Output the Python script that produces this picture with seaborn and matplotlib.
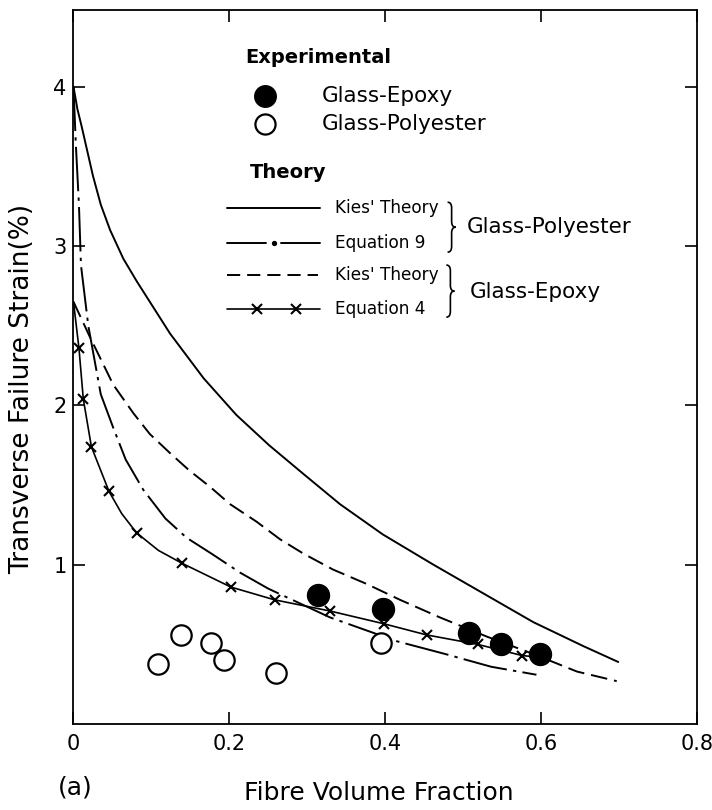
import matplotlib
matplotlib.use("Agg")
import matplotlib.pyplot as plt
import seaborn as sns
from matplotlib.path import Path
from matplotlib.patches import PathPatch

# ---------------- data ----------------
kies_gp_x = [0.0, 0.005, 0.0105, 0.025, 0.035, 0.047, 0.064, 0.081, 0.124, 0.167,
             0.209, 0.251, 0.295, 0.342, 0.397, 0.462, 0.526, 0.590, 0.654, 0.699]
kies_gp_y = [4.0, 3.86, 3.75, 3.44, 3.26, 3.10, 2.92, 2.78, 2.45, 2.17,
             1.94, 1.75, 1.57, 1.38, 1.19, 1.00, 0.82, 0.64, 0.49, 0.39]

eq9_x = [0.0, 0.003, 0.007, 0.0096, 0.019, 0.035, 0.051, 0.067, 0.0896, 0.118,
         0.145, 0.177, 0.214, 0.250, 0.329, 0.415, 0.477, 0.536, 0.594]
eq9_y = [4.0, 3.64, 3.26, 2.88, 2.50, 2.07, 1.86, 1.66, 1.47, 1.29,
         1.17, 1.07, 0.95, 0.85, 0.67, 0.52, 0.44, 0.36, 0.31]

kies_ge_x = [0.0, 0.021, 0.038, 0.051, 0.077, 0.098, 0.124, 0.149, 0.175, 0.201,
             0.235, 0.265, 0.295, 0.333, 0.376, 0.419, 0.470, 0.530, 0.590, 0.646, 0.697]
kies_ge_y = [2.65, 2.43, 2.26, 2.13, 1.95, 1.82, 1.70, 1.59, 1.49, 1.38,
             1.27, 1.16, 1.07, 0.97, 0.88, 0.78, 0.67, 0.55, 0.44, 0.33, 0.27]

eq4_x = [0.0, 0.007, 0.0126, 0.023, 0.0456, 0.062, 0.081, 0.109, 0.139, 0.202,
         0.258, 0.329, 0.398, 0.453, 0.519, 0.576, 0.598]
eq4_y = [2.65, 2.36, 2.04, 1.74, 1.46, 1.32, 1.20, 1.09, 1.01, 0.86,
         0.78, 0.71, 0.63, 0.56, 0.50, 0.43, 0.42]
eq4_marked = [1, 2, 3, 4, 6, 8, 9, 10, 11, 12, 13, 14, 15]

exp_ge_x = [0.314, 0.397, 0.507, 0.549, 0.599]
exp_ge_y = [0.81, 0.72, 0.57, 0.50, 0.44]

exp_gp_x = [0.108, 0.138, 0.176, 0.193, 0.260, 0.394]
exp_gp_y = [0.38, 0.56, 0.51, 0.40, 0.32, 0.51]

x_ticks = [0.0, 0.2, 0.4, 0.6, 0.8]
x_tick_labels = ["0", "0.2", "0.4", "0.6", "0.8"]
y_ticks = [1, 2, 3, 4]
y_tick_labels = ["1", "2", "3", "4"]

# ---------------- style ----------------
sns.set_style("ticks")
plt.rcParams["font.family"] = ["DejaVu Sans"]
plt.rcParams["lines.scale_dashes"] = False
for k in ["text.color", "axes.labelcolor", "xtick.color", "ytick.color",
          "axes.edgecolor"]:
    plt.rcParams[k] = "black"

fig = plt.figure(figsize=(7.12, 8.10), dpi=100)
ax = fig.add_axes([0.1032, 0.106, 0.8757, 0.8815])

LW = 1.4
DASHED = (0, (12, 5))
DASHDOT = (0, (32, 4.5, 2.4, 4.5))

sns.lineplot(x=kies_gp_x, y=kies_gp_y, ax=ax, color="black", lw=LW,
             sort=False, estimator=None)
sns.lineplot(x=eq9_x, y=eq9_y, ax=ax, color="black", lw=LW,
             linestyle=DASHDOT, sort=False, estimator=None)
sns.lineplot(x=kies_ge_x, y=kies_ge_y, ax=ax, color="black", lw=LW,
             linestyle=DASHED, sort=False, estimator=None)
sns.lineplot(x=eq4_x, y=eq4_y, ax=ax, color="black", lw=1.2,
             marker="x", markersize=7, markeredgewidth=1.5,
             markeredgecolor="black", markevery=eq4_marked,
             sort=False, estimator=None)

sns.scatterplot(x=exp_gp_x, y=exp_gp_y, ax=ax, s=215, color="white",
                edgecolor="black", linewidth=1.6, zorder=5)
sns.scatterplot(x=exp_ge_x, y=exp_ge_y, ax=ax, s=250, color="black",
                edgecolor="black", linewidth=1.0, zorder=6)

ax.set_xlim(0, 0.8)
ax.set_ylim(0, 4.48)
ax.set_xticks(x_ticks)
ax.set_xticklabels(x_tick_labels)
ax.set_yticks(y_ticks)
ax.set_yticklabels(y_tick_labels)
ax.tick_params(direction="in", length=8.5, width=1.2, top=True, right=True,
               labelsize=15, colors="black")
ax.tick_params(axis="x", pad=7)
ax.tick_params(axis="y", pad=5)
for sp in ax.spines.values():
    sp.set_linewidth(1.3)
    sp.set_color("black")

ax.set_xlabel("Fibre Volume Fraction", fontsize=18, va="center")
ax.xaxis.set_label_coords(0.49, -0.0966)
ax.set_ylabel("Transverse Failure Strain(%)", fontsize=19, va="center")
ax.yaxis.set_label_coords(-0.0826, 0.469)
fig.text(0.0815, 1 - 787 / 810, "(a)", fontsize=18, ha="left", va="center")

# ---------------- custom legend ----------------
T = ax.transAxes
ax.text(0.275, 0.934, "Experimental", transform=T, fontsize=14,
        fontweight="bold", ha="left", va="center")
ax.plot([0.307], [0.880], transform=T, marker="o", ms=15.5, color="black",
        clip_on=False)
ax.text(0.3986, 0.880, "Glass-Epoxy", transform=T, fontsize=15.5,
        ha="left", va="center")
ax.plot([0.307], [0.840], transform=T, marker="o", ms=14.5, mfc="white",
        mec="black", mew=1.6, clip_on=False)
ax.text(0.3986, 0.840, "Glass-Polyester", transform=T, fontsize=15.5,
        ha="left", va="center")

ax.text(0.283, 0.772, "Theory", transform=T, fontsize=14,
        fontweight="bold", ha="left", va="center")

x0, x1 = 0.246, 0.396
ys = [0.7227, 0.6737, 0.6289, 0.5812]
# solid
ax.plot([x0, x1], [ys[0]] * 2, transform=T, color="black", lw=LW)
# dash-dot sample
xm = (x0 + x1) / 2
ax.plot([x0, xm - 0.012], [ys[1]] * 2, transform=T, color="black", lw=LW)
ax.plot([xm + 0.012, x1], [ys[1]] * 2, transform=T, color="black", lw=LW)
ax.plot([xm], [ys[1]], transform=T, marker="o", ms=2.8, color="black")
# dashed sample
ax.plot([x0, x1 - 0.004], [ys[2]] * 2, transform=T, color="black", lw=LW,
        linestyle=(0, (9.5, 5)))
# eq4 sample
ax.plot([x0, x1], [ys[3]] * 2, transform=T, color="black", lw=1.2)
ax.plot([(257 - 73.5) / 623.5, (296 - 73.5) / 623.5], [ys[3]] * 2,
        transform=T, linestyle="none", marker="x", ms=7, mew=1.5,
        color="black", mec="black")

labels = ["Kies' Theory", "Equation 9", "Kies' Theory", "Equation 4"]
for yy, lab in zip(ys, labels):
    ax.text(0.419, yy, lab, transform=T, fontsize=12.2, ha="left",
            va="center")


def brace(xb, y0, y1, w=0.0065, d=0.008):
    ym = (y0 + y1) / 2
    verts = [(xb, y1), (xb + w, y1), (xb + w, y1 - d),
             (xb + w, ym + d),
             (xb + w, ym), (xb + 2 * w, ym),
             (xb + w, ym), (xb + w, ym - d),
             (xb + w, y0 + d),
             (xb + w, y0), (xb, y0)]
    codes = [Path.MOVETO, Path.CURVE3, Path.CURVE3,
             Path.LINETO,
             Path.CURVE3, Path.CURVE3,
             Path.CURVE3, Path.CURVE3,
             Path.LINETO,
             Path.CURVE3, Path.CURVE3]
    ax.add_patch(PathPatch(Path(verts, codes), transform=T, fill=False,
                           lw=1.2, edgecolor="black", clip_on=False))


brace(0.600, 0.661, 0.731)
brace(0.598, 0.570, 0.643)
ax.text(0.631, 0.696, "Glass-Polyester", transform=T, fontsize=15.5,
        ha="left", va="center")
ax.text(0.636, 0.605, "Glass-Epoxy", transform=T, fontsize=15.5,
        ha="left", va="center")

fig.savefig("out.png", dpi=100)
